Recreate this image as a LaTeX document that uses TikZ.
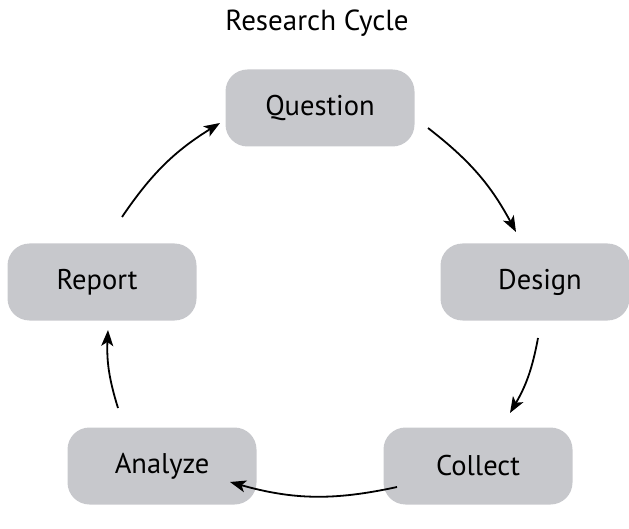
\documentclass[tikz,border=0pt]{standalone}
\usepackage{fontspec}
\setmainfont{PT Sans}
\usetikzlibrary{arrows.meta}
\definecolor{boxgray}{HTML}{C7C8CC}
\tikzset{
  stagebox/.style={fill=boxgray, rounded corners=22pt, minimum width=189pt, minimum height=77pt, inner sep=0pt, font=\fontsize{28.5}{32}\selectfont, text=black},
  cyclearrow/.style={-{Stealth[length=16pt,width=12pt,inset=4pt]}, line width=1.8pt, black}
}
\begin{document}
\begin{tikzpicture}[x=1pt,y=-1pt]
\useasboundingbox (0,0) rectangle (629,529);
\node[font=\fontsize{29}{32}\selectfont, text=black] (title) at (317,23) {Research Cycle};
\node[stagebox] (question) at (320,108) {Question};
\node[stagebox] (design) at (535,282) {\hspace*{10pt}Design};
\node[stagebox] (collect) at (478,466) {Collect};
\node[stagebox] (analyze) at (162,466) {Analyze};
\node[stagebox] (report) at (102,282) {Report\hspace*{10pt}};
\coordinate (a1) at (428,128);
\coordinate (a2) at (516,232);
\coordinate (b1) at (538,338);
\coordinate (b2) at (510,413);
\coordinate (c1) at (397,487);
\coordinate (c2) at (230,482);
\coordinate (d1) at (118,408);
\coordinate (d2) at (108,330);
\coordinate (e1) at (122,217);
\coordinate (e2) at (220,123);
\draw[cyclearrow] (a1) to[bend left=12] (a2);
\draw[cyclearrow] (b1) to[bend left=10] (b2);
\draw[cyclearrow] (c1) to[bend left=14] (c2);
\draw[cyclearrow] (d1) to[bend left=10] (d2);
\draw[cyclearrow] (e1) to[bend left=12] (e2);
\end{tikzpicture}
\end{document}
